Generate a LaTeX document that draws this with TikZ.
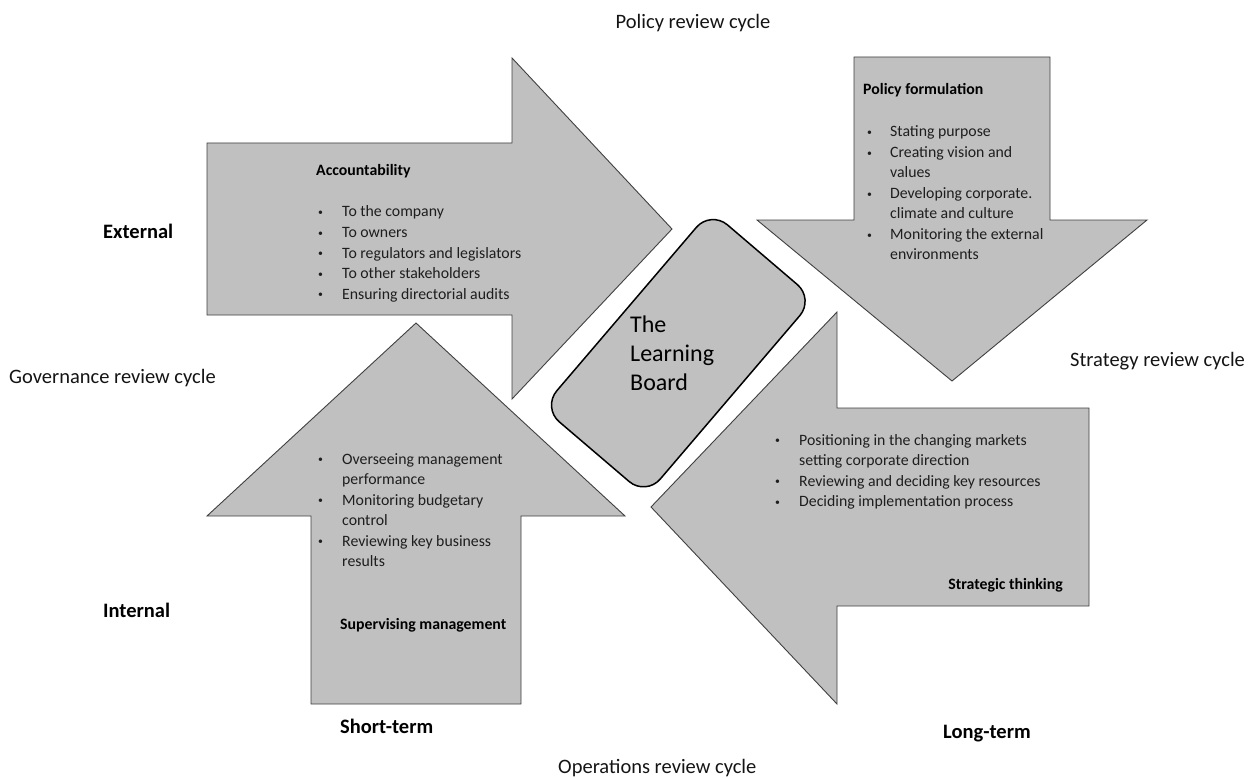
\documentclass[tikz,border=0pt]{standalone}
\usepackage{fontspec}
\usepackage{graphicx}
\setmainfont{Carlito}
\newcommand{\bl}[1][24pt]{\makebox[#1][l]{\raisebox{1.3pt}{\scalebox{0.62}{•}}}}
\begin{document}
\begin{tikzpicture}[x=1pt,y=-1pt,
  bigarrow/.style={fill={rgb,255:red,192;green,192;blue,192},draw={rgb,255:red,64;green,64;blue,64},line width=0.9pt,line join=miter},
  board/.style={draw=black,line width=1.5pt,fill={rgb,255:red,192;green,192;blue,192},rounded corners=22pt,minimum width=259pt,minimum height=136pt,inner sep=0pt,rotate=49.5},
  bodytxt/.style={inner sep=0pt,font=\fontsize{15.8}{20.5}\selectfont,text={rgb,255:red,30;green,30;blue,30}},
  headtxt/.style={inner sep=0pt,font=\fontsize{15.8}{20.5}\selectfont\bfseries},
  lbl/.style={inner sep=0pt,font=\fontsize{20.5}{25}\selectfont,text={rgb,255:red,20;green,20;blue,20}},
  blbl/.style={inner sep=0pt,font=\fontsize{20.5}{25}\selectfont\bfseries}
]
\useasboundingbox (0,0) rectangle (1255,778);

% right arrow (top-left)
\draw[bigarrow] (207,143) -- (512,143) -- (512,58) -- (672,229) -- (512,399) -- (512,315) -- (207,315) -- cycle;
% down arrow (top-right)
\draw[bigarrow] (854,57) -- (1050,57) -- (1050,220) -- (1147,220) -- (952,381) -- (757,220) -- (854,220) -- cycle;
% left arrow (bottom-right)
\draw[bigarrow] (1089,408) -- (1089,606) -- (837,606) -- (837,704) -- (651,507) -- (837,312) -- (837,408) -- cycle;
% up arrow (bottom-left)
\draw[bigarrow] (311,704) -- (311,516) -- (207,516) -- (416,323) -- (625,516) -- (521,516) -- (521,704) -- cycle;

% centre
\node[board] (boardbox) at (678.3,353.2) {};
\node[inner sep=0pt,anchor=base west,font=\fontsize{24}{29}\selectfont] (boardtxt) at (630,332)
  {\begin{tabular}[t]{@{}l@{}}The\\Learning\\Board\end{tabular}};

% accountability
\node[headtxt,anchor=base west] (acchead) at (316,176) {Accountability};
\node[bodytxt,anchor=base west] (acclist) at (318,217)
  {\begin{tabular}[t]{@{}l@{}}
   \bl To the company\\
   \bl To owners\\
   \bl To regulators and legislators\\
   \bl To other stakeholders\\
   \bl Ensuring directorial audits
  \end{tabular}};

% policy formulation
\node[headtxt,anchor=base west] (polhead) at (863,95) {Policy formulation};
\node[bodytxt,anchor=base west] (pollist) at (867,137)
  {\begin{tabular}[t]{@{}l@{}}
   \bl[23pt]Stating purpose\\
   \bl[23pt]Creating vision and\\
   \hspace*{23pt}values\\
   \bl[23pt]Developing corporate.\\
   \hspace*{23pt}climate and culture\\
   \bl[23pt]Monitoring the external\\
   \hspace*{23pt}environments
  \end{tabular}};

% strategic thinking
\node[bodytxt,anchor=base west] (strlist) at (775,445)
  {\begin{tabular}[t]{@{}l@{}}
   \bl Positioning in the changing markets\\
   \hspace*{24pt}setting corporate direction\\
   \bl Reviewing and deciding key resources\\
   \bl Deciding implementation process
  \end{tabular}};
\node[headtxt,anchor=base east] (strhead) at (1063,589) {Strategic thinking};

% supervising management
\node[bodytxt,anchor=base west] (suplist) at (318,464)
  {\begin{tabular}[t]{@{}l@{}}
   \bl Overseeing management\\
   \hspace*{24pt}performance\\
   \bl Monitoring budgetary\\
   \hspace*{24pt}control\\
   \bl Reviewing key business\\
   \hspace*{24pt}results
  \end{tabular}};
\node[headtxt,anchor=base west] (suphead) at (340,629) {Supervising management};

% outer labels
\node[lbl,anchor=base] (policy) at (693,29) {Policy review cycle};
\node[lbl,anchor=base west] (governance) at (9,383) {Governance review cycle};
\node[lbl,anchor=base west] (strategy) at (1070,366) {Strategy review cycle};
\node[lbl,anchor=base west] (operations) at (558,773) {Operations review cycle};
\node[blbl,anchor=base west] (external) at (103,238) {External};
\node[blbl,anchor=base west] (internal) at (103,617) {Internal};
\node[blbl,anchor=base west] (shortterm) at (340,733) {Short-term};
\node[blbl,anchor=base west] (longterm) at (943,738) {Long-term};
\end{tikzpicture}
\end{document}
